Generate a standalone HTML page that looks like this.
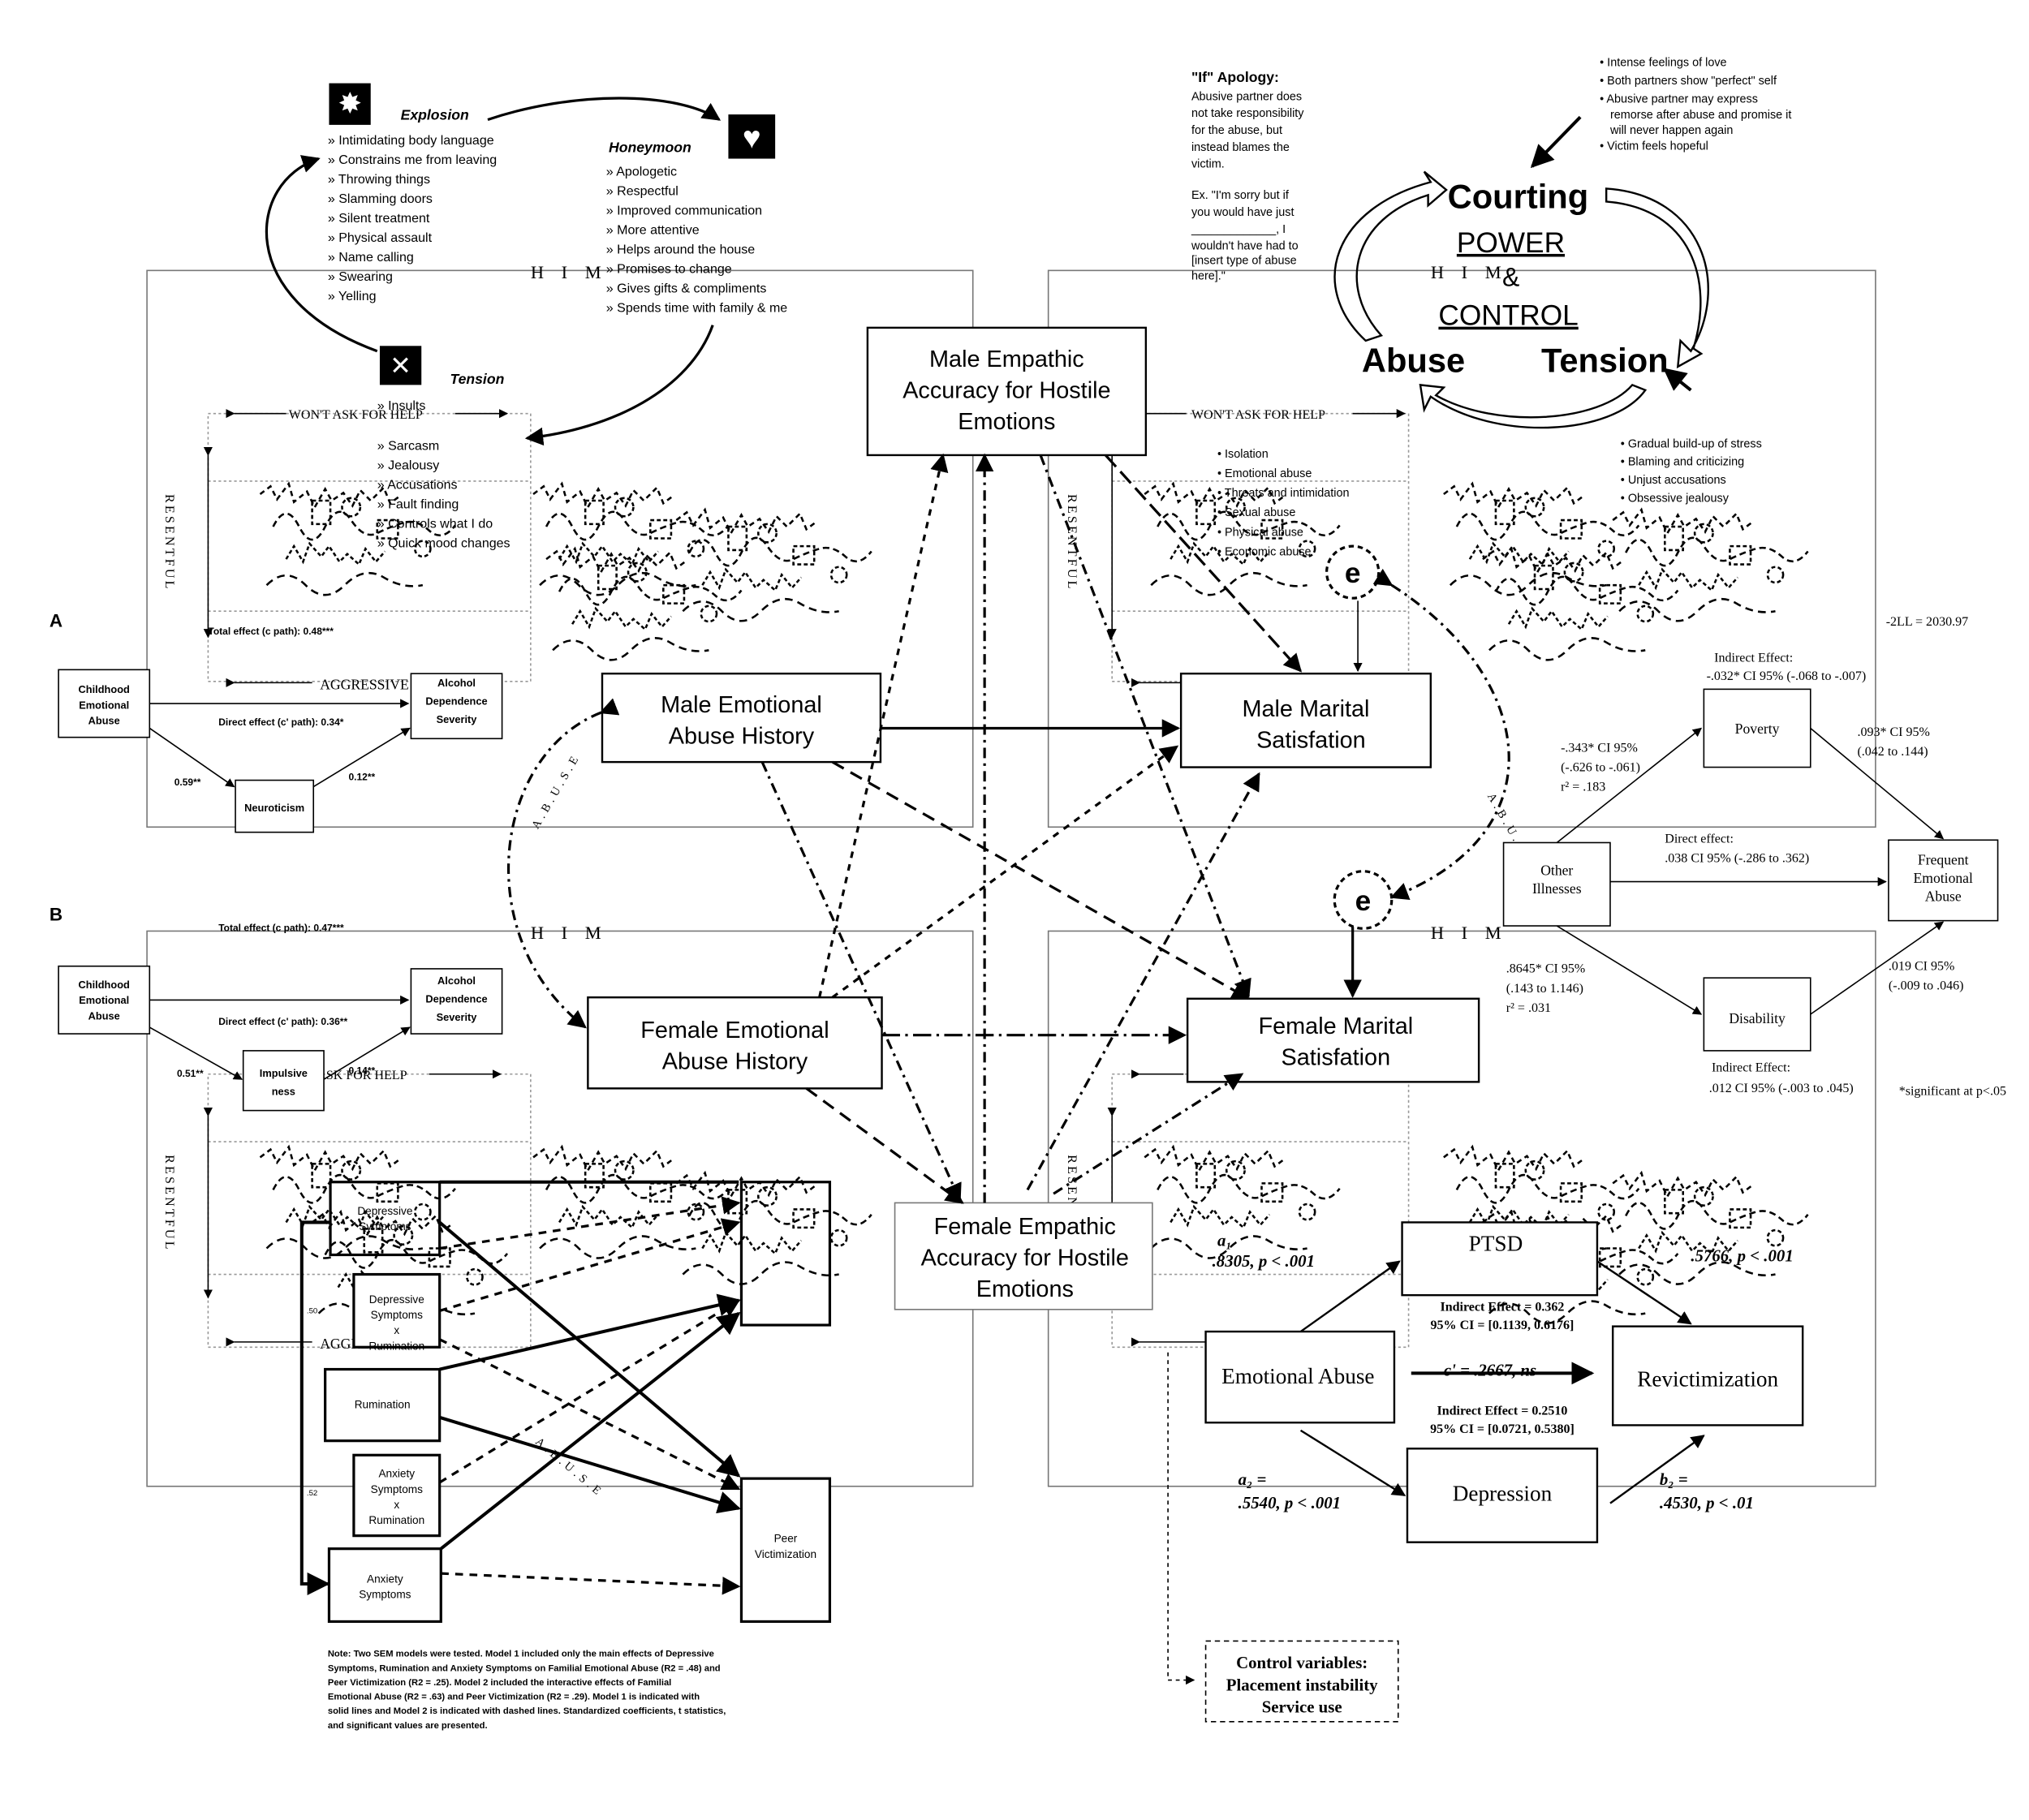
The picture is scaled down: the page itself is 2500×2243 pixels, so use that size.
<!DOCTYPE html>
<html><head><meta charset="utf-8"><style>
html,body{margin:0;padding:0;background:#fff}
svg{display:block}
text{font-family:"Liberation Sans",sans-serif;fill:#000}
.s{font-family:"Liberation Serif",serif}
</style></head><body>
<svg width="2500" height="2243" viewBox="0 0 1560 1399.6" xmlns="http://www.w3.org/2000/svg">
<defs>
<marker id="a" viewBox="0 0 10 10" refX="9" refY="5" markerWidth="7" markerHeight="7" orient="auto"><path d="M0,0L10,5L0,10z"/></marker>
<g id="scr" fill="none" stroke="#000" stroke-width="1.6">
<path d="M0,20 l8,-6 l5,10 l9,-12 l4,14 l10,-8 l6,12 l8,-14 l5,9 l9,-6 l7,10 l6,-12 l8,8 l10,-10 l5,12 l8,-6" stroke-dasharray="4,3"/>
<path d="M10,45 q10,-20 20,0 t20,0 t20,-5 t20,10 t20,-8 t20,6 t20,-4" stroke-dasharray="5,3"/>
<path d="M20,70 l6,-10 l7,12 l5,-14 l9,10 l6,-8 l8,12 l6,-6 l9,8 l5,-12 l8,10 l7,-8" stroke-dasharray="3,2"/>
<path d="M5,90 q15,-15 30,0 t30,0 t30,-6 t30,6" stroke-dasharray="6,4"/>
<rect x="40" y="25" width="14" height="18" stroke-dasharray="3,2"/>
<rect x="90" y="40" width="16" height="14" stroke-dasharray="3,2"/>
<circle cx="70" cy="30" r="7" stroke-dasharray="3,2"/>
<circle cx="125" cy="62" r="6" stroke-dasharray="3,2"/>
</g>
</defs>
<g fill="none" stroke="#777" stroke-width="1">
<rect x="113" y="208" width="635" height="428"/>
<rect x="806" y="208" width="636" height="428"/>
<rect x="113" y="716" width="635" height="427"/>
<rect x="806" y="716" width="636" height="427"/>
</g>
<g fill="none" stroke="#999" stroke-dasharray="2,2">
<rect x="160" y="318" width="248" height="206"/>
<rect x="855" y="318" width="228" height="206"/>
<rect x="160" y="826" width="248" height="210"/>
<rect x="855" y="826" width="228" height="210"/>
<line x1="160" y1="370" x2="408" y2="370"/><line x1="855" y1="370" x2="1083" y2="370"/>
<line x1="160" y1="470" x2="408" y2="470"/><line x1="855" y1="470" x2="1083" y2="470"/>
<line x1="160" y1="878" x2="408" y2="878"/><line x1="855" y1="878" x2="1083" y2="878"/>
<line x1="160" y1="980" x2="408" y2="980"/><line x1="855" y1="980" x2="1083" y2="980"/>
</g>
<!-- scribble areas -->
<use href="#scr" x="200" y="360"/><use href="#scr" x="410" y="360"/><use href="#scr" x="520" y="380"/><use href="#scr" x="420" y="410" transform=""/>
<use href="#scr" x="880" y="360"/><use href="#scr" x="1110" y="360"/><use href="#scr" x="1240" y="380"/><use href="#scr" x="1140" y="410"/>
<use href="#scr" x="200" y="870"/><use href="#scr" x="410" y="870"/><use href="#scr" x="520" y="890"/><use href="#scr" x="240" y="920"/>
<use href="#scr" x="880" y="870"/><use href="#scr" x="1110" y="870"/><use href="#scr" x="1240" y="890"/><use href="#scr" x="1140" y="920"/>
<g font-size="14" letter-spacing="5">
<text x="408" y="214" class="s">H I M</text><text x="1100" y="214" class="s">H I M</text>
<text x="408" y="722" class="s">H I M</text><text x="1100" y="722" class="s">H I M</text>
</g>
<g font-size="10">
<text x="222" y="322" class="s">WON'T ASK FOR HELP</text><text x="916" y="322" class="s">WON'T ASK FOR HELP</text>
<text x="914" y="830" class="s">WON'T ASK FOR HELP</text><text x="210" y="830" class="s">WON'T ASK FOR HELP</text>
<text x="246" y="530" class="s" font-size="11">AGGRESSIVE</text><text x="940" y="529" class="s" font-size="11">AGGRESSIVE</text>
<text x="246" y="1037" class="s" font-size="11">AGGRESSIVE</text><text x="940" y="1037" class="s" font-size="11">AGGRESSIVE</text>
</g>
<g stroke="#000" fill="none" stroke-width="1">
<line x1="180" y1="318" x2="220" y2="318" marker-start="url(#a)"/><line x1="350" y1="318" x2="390" y2="318" marker-end="url(#a)"/>
<line x1="876" y1="318" x2="912" y2="318" marker-start="url(#a)"/><line x1="1040" y1="318" x2="1080" y2="318" marker-end="url(#a)"/>
<line x1="180" y1="525" x2="240" y2="525" marker-start="url(#a)"/><line x1="876" y1="525" x2="935" y2="525" marker-start="url(#a)"/>
<line x1="180" y1="1032" x2="240" y2="1032" marker-start="url(#a)"/><line x1="876" y1="1032" x2="935" y2="1032" marker-start="url(#a)"/>
<line x1="876" y1="826" x2="910" y2="826" marker-start="url(#a)"/><line x1="330" y1="826" x2="385" y2="826" marker-end="url(#a)"/>
<line x1="160" y1="350" x2="160" y2="490" marker-start="url(#a)" marker-end="url(#a)"/>
<line x1="855" y1="350" x2="855" y2="490" marker-start="url(#a)" marker-end="url(#a)"/>
<line x1="160" y1="858" x2="160" y2="998" marker-start="url(#a)" marker-end="url(#a)"/>
<line x1="855" y1="858" x2="855" y2="998" marker-start="url(#a)" marker-end="url(#a)"/>
</g>
<g font-size="10">
<text x="130" y="380" class="s" style="writing-mode:tb" letter-spacing="2">RESENTFUL</text>
<text x="824" y="380" class="s" style="writing-mode:tb" letter-spacing="2">RESENTFUL</text>
<text x="130" y="888" class="s" style="writing-mode:tb" letter-spacing="2">RESENTFUL</text>
<text x="824" y="888" class="s" style="writing-mode:tb" letter-spacing="2">RESENTFUL</text>
</g>
<!-- center boxes -->
<g fill="#fff" stroke="#000" stroke-width="1.5">
<rect x="667" y="252" width="214" height="98"/>
<rect x="463" y="518" width="214" height="68"/>
<rect x="908" y="518" width="192" height="72"/>
<rect x="452" y="767" width="226" height="70"/>
<rect x="913" y="768" width="224" height="64"/>
<rect x="688" y="925" width="198" height="82" stroke="#777" stroke-width="1"/>
</g>
<g font-size="18" text-anchor="middle">
<text x="774" y="282">Male Empathic</text><text x="774" y="306">Accuracy for Hostile</text><text x="774" y="330">Emotions</text>
<text x="570" y="548">Male Emotional</text><text x="570" y="572">Abuse History</text>
<text x="1004" y="551">Male Marital</text><text x="1008" y="575">Satisfation</text>
<text x="565" y="798">Female Emotional</text><text x="565" y="822">Abuse History</text>
<text x="1027" y="795">Female Marital</text><text x="1027" y="819">Satisfation</text>
<text x="788" y="949">Female Empathic</text><text x="788" y="973">Accuracy for Hostile</text><text x="788" y="997">Emotions</text>
</g>
<g fill="none" stroke="#000" stroke-width="2">
<line x1="677" y1="560" x2="906" y2="560" marker-end="url(#a)"/>
<line x1="678" y1="796" x2="911" y2="796" marker-end="url(#a)" stroke-dasharray="14,4,2,4"/>
<line x1="1040" y1="692" x2="1040" y2="766" marker-end="url(#a)"/>
<line x1="1044" y1="462" x2="1044" y2="516" marker-end="url(#a)" stroke-width="1"/>
</g>
<g fill="none" stroke="#000" stroke-width="2" stroke-dasharray="5,5">
<line x1="630" y1="767" x2="725" y2="350" marker-end="url(#a)"/>
<line x1="757" y1="925" x2="757" y2="350" marker-end="url(#a)" stroke-dasharray="8,4,2,4"/>
<line x1="800" y1="350" x2="960" y2="766" marker-end="url(#a)" stroke-dasharray="8,4,2,4"/>
<line x1="850" y1="350" x2="1000" y2="516" marker-end="url(#a)" stroke-dasharray="12,5"/>
<line x1="640" y1="767" x2="905" y2="574" marker-end="url(#a)"/>
<line x1="586" y1="586" x2="738" y2="923" marker-end="url(#a)" stroke-dasharray="8,4,2,4"/>
<line x1="640" y1="586" x2="960" y2="768" marker-end="url(#a)" stroke-dasharray="10,6"/>
<line x1="620" y1="837" x2="740" y2="925" marker-end="url(#a)" stroke-dasharray="10,6"/>
<line x1="790" y1="915" x2="968" y2="595" marker-end="url(#a)" stroke-dasharray="8,4,2,4"/>
<line x1="810" y1="918" x2="955" y2="826" marker-end="url(#a)" stroke-dasharray="8,4,2,4"/>
<path d="M462,548 C380,580 360,720 450,790" marker-start="url(#a)" marker-end="url(#a)" stroke-dasharray="8,4,2,4"/>
<path d="M1070,450 C1180,520 1200,640 1070,690" marker-start="url(#a)" marker-end="url(#a)" stroke-dasharray="8,4,2,4"/>
</g>
<circle cx="1040" cy="440" r="20" fill="none" stroke="#000" stroke-width="2" stroke-dasharray="4,3"/>
<text x="1040" y="448" font-size="22" font-weight="bold" text-anchor="middle">e</text>
<circle cx="1048" cy="692" r="22" fill="#fff" stroke="#000" stroke-width="2" stroke-dasharray="4,3"/>
<text x="1048" y="700" font-size="22" font-weight="bold" text-anchor="middle">e</text>
<g font-size="9">
<text x="380" y="640" transform="rotate(-60 395 610)" class="s" letter-spacing="3">A.B.U.S.E</text>
<text x="1110" y="610" transform="rotate(60 1125 640)" class="s" letter-spacing="3">A.B.U.S.E</text>
<text x="400" y="1120" transform="rotate(40 420 1130)" class="s" letter-spacing="3">A.B.U.S.E</text>
</g>
<!-- Panel A / B -->
<g fill="#fff" stroke="#000" stroke-width="1">
<rect x="45" y="515" width="70" height="52"/><rect x="316" y="518" width="70" height="50"/><rect x="181" y="600" width="60" height="40"/>
<rect x="45" y="743" width="70" height="52"/><rect x="316" y="745" width="70" height="50"/><rect x="187" y="808" width="62" height="46"/>
</g>
<g font-size="8" font-weight="bold" text-anchor="middle">
<text x="80" y="533">Childhood</text><text x="80" y="545">Emotional</text><text x="80" y="557">Abuse</text>
<text x="351" y="528">Alcohol</text><text x="351" y="542">Dependence</text><text x="351" y="556">Severity</text>
<text x="211" y="624">Neuroticism</text>
<text x="80" y="760">Childhood</text><text x="80" y="772">Emotional</text><text x="80" y="784">Abuse</text>
<text x="351" y="757">Alcohol</text><text x="351" y="771">Dependence</text><text x="351" y="785">Severity</text>
<text x="218" y="828">Impulsive</text><text x="218" y="842">ness</text>
</g>
<g stroke="#000" stroke-width="1">
<line x1="115" y1="541" x2="314" y2="541" marker-end="url(#a)"/>
<line x1="115" y1="560" x2="180" y2="605" marker-end="url(#a)"/>
<line x1="241" y1="605" x2="315" y2="560" marker-end="url(#a)"/>
<line x1="115" y1="769" x2="314" y2="769" marker-end="url(#a)"/>
<line x1="115" y1="790" x2="186" y2="830" marker-end="url(#a)"/>
<line x1="249" y1="830" x2="315" y2="790" marker-end="url(#a)"/>
</g>
<g font-size="7.5" font-weight="bold">
<text x="38" y="482" font-size="14">A</text><text x="38" y="708" font-size="14">B</text>
<text x="160" y="488">Total effect (c path): 0.48***</text>
<text x="168" y="558">Direct effect (c' path): 0.34*</text>
<text x="134" y="604">0.59**</text><text x="268" y="600">0.12**</text>
<text x="168" y="716">Total effect (c path): 0.47***</text>
<text x="168" y="788">Direct effect (c' path): 0.36**</text>
<text x="136" y="828">0.51**</text><text x="268" y="826">0.14**</text>
</g>
<!-- cycle top-left -->
<rect x="253" y="64" width="32" height="32" fill="#000"/><text x="269" y="87" font-size="22" text-anchor="middle" style="fill:#fff">✸</text>
<rect x="560" y="88" width="36" height="34" fill="#000"/><text x="578" y="114" font-size="24" text-anchor="middle" style="fill:#fff">♥</text>
<rect x="292" y="266" width="32" height="30" fill="#000"/><text x="308" y="288" font-size="20" text-anchor="middle" style="fill:#fff">✕</text>
<g font-size="11" font-style="italic" font-weight="bold">
<text x="308" y="92">Explosion</text><text x="468" y="117">Honeymoon</text><text x="346" y="295">Tension</text>
</g>
<g font-size="10">
<text x="252" y="111">» Intimidating body language</text><text x="252" y="126">» Constrains me from leaving</text>
<text x="252" y="141">» Throwing things</text><text x="252" y="156">» Slamming doors</text>
<text x="252" y="171">» Silent treatment</text><text x="252" y="186">» Physical assault</text>
<text x="252" y="201">» Name calling</text><text x="252" y="216">» Swearing</text><text x="252" y="231">» Yelling</text>
<text x="466" y="135">» Apologetic</text><text x="466" y="150">» Respectful</text><text x="466" y="165">» Improved communication</text>
<text x="466" y="180">» More attentive</text><text x="466" y="195">» Helps around the house</text><text x="466" y="210">» Promises to change</text>
<text x="466" y="225">» Gives gifts &amp; compliments</text><text x="466" y="240">» Spends time with family &amp; me</text>
<text x="290" y="315">» Insults</text><text x="290" y="346">» Sarcasm</text><text x="290" y="361">» Jealousy</text>
<text x="290" y="376">» Accusations</text><text x="290" y="391">» Fault finding</text><text x="290" y="406">» Controls what I do</text><text x="290" y="421">» Quick mood changes</text>
</g>
<g fill="none" stroke="#000" stroke-width="2">
<path d="M290,270 C180,230 190,140 245,122" marker-end="url(#a)"/>
<path d="M375,92 C440,70 520,70 553,92" marker-end="url(#a)"/>
<path d="M548,250 C530,300 470,330 405,337" marker-end="url(#a)"/>
</g>
<!-- Courting -->
<g font-size="9">
<text x="916" y="63" font-weight="bold" font-size="11">"If" Apology:</text>
<text x="916" y="77">Abusive partner does</text><text x="916" y="90">not take responsibility</text>
<text x="916" y="103">for the abuse, but</text><text x="916" y="116">instead blames the</text><text x="916" y="129">victim.</text>
<text x="916" y="153">Ex. "I'm sorry but if</text><text x="916" y="166">you would have just</text>
<text x="916" y="179">_____________, I</text><text x="916" y="192">wouldn't have had to</text>
<text x="916" y="203">[insert type of abuse</text><text x="916" y="215">here]."</text>
<text x="1230" y="51">• Intense feelings of love</text><text x="1230" y="65">• Both partners show "perfect" self</text>
<text x="1230" y="79">• Abusive partner may express</text><text x="1238" y="91">remorse after abuse and promise it</text>
<text x="1238" y="103">will never happen again</text><text x="1230" y="115">• Victim feels hopeful</text>
<text x="1246" y="344">• Gradual build-up of stress</text><text x="1246" y="358">• Blaming and criticizing</text>
<text x="1246" y="372">• Unjust accusations</text><text x="1246" y="386">• Obsessive jealousy</text>
<text x="936" y="352">• Isolation</text><text x="936" y="367">• Emotional abuse</text><text x="936" y="382">• Threats and intimidation</text>
<text x="936" y="397">• Sexual abuse</text><text x="936" y="412">• Physical abuse</text><text x="936" y="427">• Economic abuse</text>
</g>
<text x="1113" y="160" font-size="26" font-weight="bold">Courting</text>
<text x="1120" y="194" font-size="22" text-decoration="underline">POWER</text>
<text x="1155" y="220" font-size="20">&amp;</text>
<text x="1106" y="250" font-size="22" text-decoration="underline">CONTROL</text>
<text x="1047" y="286" font-size="26" font-weight="bold">Abuse</text>
<text x="1185" y="286" font-size="26" font-weight="bold">Tension</text>
<g fill="none" stroke="#000" stroke-width="1.5">
<path d="M1050,262 C1005,220 1025,160 1100,140 L1095,132 L1112,146 L1098,158 L1098,150 C1040,168 1028,220 1062,258 Z"/>
<path d="M1235,145 C1310,150 1330,220 1300,270 L1292,262 L1290,282 L1308,272 L1302,268 C1318,215 1300,160 1235,155 Z"/>
<path d="M1265,300 C1240,335 1150,340 1100,305 L1095,315 L1092,296 L1110,298 L1104,304 C1150,330 1230,325 1255,296 Z"/>
<line x1="1215" y1="90" x2="1178" y2="128" marker-end="url(#a)" stroke-width="2.5"/>
<line x1="1300" y1="300" x2="1280" y2="284" marker-end="url(#a)" stroke-width="2.5"/>
</g>
<!-- poverty model -->
<g fill="#fff" stroke="#000" stroke-width="1">
<rect x="1310" y="530" width="82" height="60"/><rect x="1156" y="648" width="82" height="64"/>
<rect x="1452" y="646" width="84" height="62"/><rect x="1310" y="752" width="82" height="56"/>
</g>
<g font-size="11" text-anchor="middle">
<text x="1351" y="564" class="s">Poverty</text><text x="1197" y="673" class="s">Other</text><text x="1197" y="687" class="s">Illnesses</text>
<text x="1494" y="665" class="s">Frequent</text><text x="1494" y="679" class="s">Emotional</text><text x="1494" y="693" class="s">Abuse</text>
<text x="1351" y="787" class="s">Disability</text>
</g>
<g stroke="#000" stroke-width="1">
<line x1="1197" y1="648" x2="1308" y2="560" marker-end="url(#a)"/><line x1="1392" y1="560" x2="1494" y2="645" marker-end="url(#a)"/>
<line x1="1238" y1="678" x2="1450" y2="678" marker-end="url(#a)"/>
<line x1="1197" y1="712" x2="1308" y2="780" marker-end="url(#a)"/><line x1="1392" y1="780" x2="1494" y2="709" marker-end="url(#a)"/>
</g>
<g font-size="10">
<text x="1450" y="481" class="s">-2LL = 2030.97</text>
<text x="1318" y="509" class="s">Indirect Effect:</text><text x="1312" y="523" class="s">-.032* CI 95% (-.068 to -.007)</text>
<text x="1200" y="578" class="s">-.343* CI 95%</text><text x="1200" y="593" class="s">(-.626 to -.061)</text><text x="1200" y="608" class="s">r² = .183</text>
<text x="1428" y="566" class="s">.093* CI 95%</text><text x="1428" y="581" class="s">(.042 to .144)</text>
<text x="1280" y="648" class="s">Direct effect:</text><text x="1280" y="663" class="s">.038 CI 95% (-.286 to .362)</text>
<text x="1158" y="748" class="s">.8645* CI 95%</text><text x="1158" y="763" class="s">(.143 to 1.146)</text><text x="1158" y="778" class="s">r² = .031</text>
<text x="1452" y="746" class="s">.019 CI 95%</text><text x="1452" y="761" class="s">(-.009 to .046)</text>
<text x="1316" y="824" class="s">Indirect Effect:</text><text x="1314" y="840" class="s">.012 CI 95% (-.003 to .045)</text>
<text x="1460" y="842" class="s">*significant at p&lt;.05</text>
</g>
<!-- bottom right mediation -->
<g fill="#fff" stroke="#000" stroke-width="1.5">
<rect x="1078" y="940" width="150" height="56"/>
<rect x="927" y="1024" width="145" height="70"/><rect x="1240" y="1020" width="146" height="76"/>
<rect x="1082" y="1114" width="146" height="72"/>
</g>
<rect x="927" y="1262" width="148" height="62" fill="none" stroke="#000" stroke-dasharray="4,3"/>
<g text-anchor="middle">
<text x="998" y="1064" font-size="17" class="s">Emotional Abuse</text><text x="1313" y="1066" font-size="17" class="s">Revictimization</text>
<text x="1155" y="1154" font-size="17" class="s">Depression</text><text x="1150" y="962" font-size="17" class="s">PTSD</text>
<text x="1001" y="1283" font-size="13" font-weight="bold" class="s">Control variables:</text>
<text x="1001" y="1300" font-size="13" font-weight="bold" class="s">Placement instability</text>
<text x="1001" y="1317" font-size="13" font-weight="bold" class="s">Service use</text>
</g>
<g stroke="#000" stroke-width="1.5" fill="none">
<line x1="1000" y1="1024" x2="1076" y2="970" marker-end="url(#a)"/>
<line x1="1228" y1="970" x2="1300" y2="1018" marker-end="url(#a)"/>
<line x1="1085" y1="1056" x2="1224" y2="1056" marker-end="url(#a)" stroke-width="2.5"/>
<line x1="1000" y1="1100" x2="1080" y2="1150" marker-end="url(#a)"/>
<line x1="1238" y1="1156" x2="1310" y2="1104" marker-end="url(#a)"/>
<path d="M898,1040 L898,1292 L918,1292" stroke-dasharray="3,3" stroke-width="1" marker-end="url(#a)"/>
</g>
<g font-size="13" font-style="italic" font-weight="bold">
<text x="936" y="958" class="s">a₁</text><text x="932" y="974" class="s">.8305, p &lt; .001</text>
<text x="1300" y="970" class="s">.5766, p &lt; .001</text>
<text x="1110" y="1058" class="s">c' = .2667, ns</text>
<text x="952" y="1142" class="s">a₂ =</text><text x="952" y="1160" class="s">.5540, p &lt; .001</text>
<text x="1276" y="1142" class="s">b₂ =</text><text x="1276" y="1160" class="s">.4530, p &lt; .01</text>
</g>
<g font-size="10" font-weight="bold" text-anchor="middle">
<text x="1155" y="1008" class="s">Indirect Effect = 0.362</text><text x="1155" y="1022" class="s">95% CI = [0.1139, 0.6176]</text>
<text x="1155" y="1088" class="s">Indirect Effect = 0.2510</text><text x="1155" y="1102" class="s">95% CI = [0.0721, 0.5380]</text>
</g>
<!-- bottom left SEM -->
<g fill="#fff" stroke="#000" stroke-width="2">
<rect x="254" y="909" width="84" height="56" fill="none"/>
<rect x="272" y="980" width="66" height="56"/>
<rect x="250" y="1053" width="88" height="55"/>
<rect x="272" y="1119" width="66" height="62"/>
<rect x="253" y="1191" width="86" height="56"/>
<rect x="570" y="909" width="68" height="110" fill="none"/>
<rect x="570" y="1137" width="68" height="110"/>
</g>
<g font-size="8.5" text-anchor="middle">
<text x="296" y="934">Depressive</text><text x="296" y="946">Symptoms</text>
<text x="305" y="1002">Depressive</text><text x="305" y="1014">Symptoms</text><text x="305" y="1026">x</text><text x="305" y="1038">Rumination</text>
<text x="294" y="1083">Rumination</text>
<text x="305" y="1136">Anxiety</text><text x="305" y="1148">Symptoms</text><text x="305" y="1160">x</text><text x="305" y="1172">Rumination</text>
<text x="296" y="1217">Anxiety</text><text x="296" y="1229">Symptoms</text>
<text x="604" y="1186">Peer</text><text x="604" y="1198">Victimization</text>
<text x="240" y="1010" font-size="6">.50</text><text x="240" y="1150" font-size="6">.52</text>
</g>
<g stroke="#000" stroke-width="2.5" fill="none">
<path d="M254,940 L232,940 L232,1218 L252,1218" marker-end="url(#a)"/>
<line x1="338" y1="909" x2="568" y2="909"/>
<line x1="338" y1="940" x2="568" y2="1135" marker-end="url(#a)"/>
<line x1="338" y1="1053" x2="568" y2="1000" marker-end="url(#a)"/>
<line x1="338" y1="1090" x2="568" y2="1160" marker-end="url(#a)"/>
<line x1="339" y1="1191" x2="568" y2="1010" marker-end="url(#a)"/>
</g>
<g stroke="#000" stroke-width="2" stroke-dasharray="6,5" fill="none">
<line x1="338" y1="1008" x2="568" y2="940" marker-end="url(#a)"/>
<line x1="338" y1="1030" x2="568" y2="1145" marker-end="url(#a)"/>
<line x1="338" y1="1140" x2="568" y2="1000" marker-end="url(#a)"/>
<line x1="339" y1="1210" x2="568" y2="1220" marker-end="url(#a)"/>
<line x1="338" y1="960" x2="568" y2="925" marker-end="url(#a)"/>
</g>
<g font-size="7" font-weight="bold">
<text x="252" y="1274">Note: Two SEM models were tested. Model 1 included only the main effects of Depressive</text>
<text x="252" y="1285">Symptoms, Rumination and Anxiety Symptoms on Familial Emotional Abuse (R2 = .48) and</text>
<text x="252" y="1296">Peer Victimization (R2 = .25). Model 2 included the interactive effects of Familial</text>
<text x="252" y="1307">Emotional Abuse (R2 = .63) and Peer Victimization (R2 = .29). Model 1 is indicated with</text>
<text x="252" y="1318">solid lines and Model 2 is indicated with dashed lines. Standardized coefficients, t statistics,</text>
<text x="252" y="1329">and significant values are presented.</text>
</g>
</svg>
</body></html>
